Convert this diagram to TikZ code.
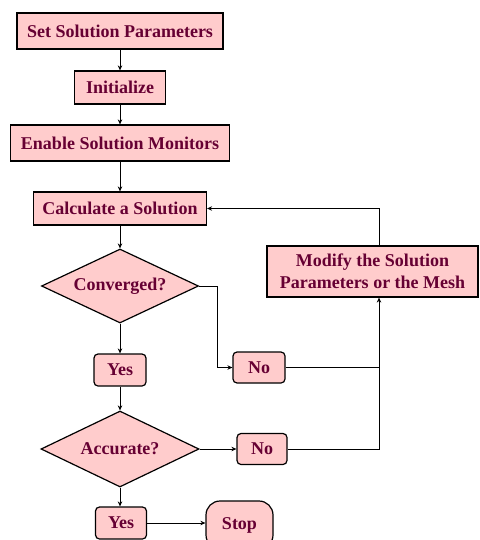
\documentclass[tikz,border=0pt]{standalone}
\usepackage{fontspec}
\setmainfont{Liberation Serif}
\usetikzlibrary{shapes.geometric,arrows.meta}
\definecolor{boxfill}{RGB}{255,204,204}
\definecolor{txt}{RGB}{102,0,51}
\tikzset{
  base/.style={draw=black, line width=1.2pt, fill=boxfill, text=txt,
    font=\fontsize{18}{22}\selectfont\bfseries, inner sep=0pt, align=center},
  rectbox/.style={base, rectangle},
  roundbox/.style={base, rectangle, rounded corners=4pt},
  decision/.style={base, diamond, aspect=2},
  terminal/.style={base, rectangle, rounded corners=14pt},
  arr/.style={draw=black, line width=1pt, -{Stealth[length=5pt,width=4.5pt]}},
  ln/.style={draw=black, line width=1pt},
}
\begin{document}
\begin{tikzpicture}[x=1pt,y=-1pt]
\useasboundingbox (0,0) rectangle (479,540);
\node[rectbox, minimum width=206pt, minimum height=36pt] (b1) at (120,31) {Set Solution Parameters};
\node[rectbox, minimum width=91pt, minimum height=33pt] (b2) at (120,87.5) {Initialize};
\node[rectbox, minimum width=219pt, minimum height=36pt] (b3) at (120,143) {Enable Solution Monitors};
\node[rectbox, minimum width=173pt, minimum height=33pt] (b4) at (120,208.5) {Calculate a Solution};
\node[decision, minimum width=157pt, minimum height=74pt] (d1) at (120,286) {Converged?};
\node[roundbox, minimum width=52pt, minimum height=32pt] (y1) at (120,370) {Yes};
\node[decision, minimum width=158pt, minimum height=76pt] (d2) at (120,449) {Accurate?};
\node[roundbox, minimum width=51pt, minimum height=32pt] (y2) at (121,523) {Yes};
\node[terminal, minimum width=67pt, minimum height=48pt] (stop) at (239.5,525) {Stop};
\node[roundbox, minimum width=52pt, minimum height=31pt] (n1) at (259,367.5) {No};
\node[roundbox, minimum width=50pt, minimum height=31pt] (n2) at (262,449) {No};
\node[rectbox, minimum width=211pt, minimum height=51pt] (mod) at (372.5,271.5) {Modify the Solution\\Parameters or the Mesh};
\coordinate (jb) at ([xshift=6.5pt]mod.south);
\coordinate (jt) at ([xshift=6.5pt]mod.north);
\draw[arr] (b1) -- (b2);
\draw[arr] (b2) -- (b3);
\draw[arr] (b3) -- (b4);
\draw[arr] (b4) -- (d1);
\draw[arr] (d1) -- (y1);
\draw[arr] (y1) -- (d2);
\draw[arr] (d2) -- (y2.north -| d2.south);
\draw[arr] (y2.east) -- (stop.west |- y2.east);
\draw[arr] (d1.east) -- ++(18,0) |- (n1.west);
\draw[arr] (d2.east) -- (n2.west);
\draw[arr] (n2.east) -| (jb);
\draw[ln] (n1.east) -- (n1.east -| jb);
\draw[arr] (jt) |- (b4.east);
\end{tikzpicture}
\end{document}
